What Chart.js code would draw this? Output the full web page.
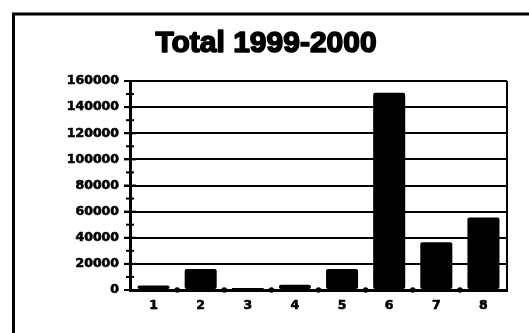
<!DOCTYPE html>
<html>
<head>
<meta charset="utf-8">
<script src="https://cdn.jsdelivr.net/npm/chart.js@4/dist/chart.umd.min.js"></script>
<style>
  html, body { margin: 0; padding: 0; background: #fff; }
  #wrap { width: 529px; height: 333px; }
</style>
</head>
<body>
<div id="wrap"><canvas id="c" width="529" height="333"></canvas></div>
<script>
// Chart content
const titleText = 'Total 1999-2000';
const categories = ['1', '2', '3', '4', '5', '6', '7', '8'];
const totals = [3500, 16000, 1500, 4000, 16000, 151000, 36500, 55500];
const yMin = 0;
const yMax = 160000;
const yStep = 20000;

const INK = '#000';
const tickFont = { family: 'DejaVu Sans', weight: 'bold', size: 12.5 };

// Frame, title, minor ticks, boundary dots and right edge of the plot
const decorations = {
  id: 'decorations',
  beforeDraw(chart) {
    const ctx = chart.ctx;
    ctx.save();
    ctx.fillStyle = '#fff';
    ctx.fillRect(0, 0, chart.width, chart.height);
    ctx.strokeStyle = INK;
    ctx.lineWidth = 3;
    ctx.beginPath();
    ctx.moveTo(13.5, chart.height + 2);
    ctx.lineTo(13.5, 14);
    ctx.lineTo(chart.width + 2, 14);
    ctx.stroke();
    ctx.fillStyle = INK;
    ctx.font = 'bold 30px "Liberation Sans", Arial, sans-serif';
    ctx.textAlign = 'center';
    ctx.textBaseline = 'alphabetic';
    ctx.lineWidth = 1.6;
    ctx.lineJoin = 'round';
    ctx.strokeText(titleText, 266, 51.5);
    ctx.fillText(titleText, 266, 51.5);
    ctx.restore();
  },
  afterDraw(chart) {
    const ctx = chart.ctx;
    const area = chart.chartArea;
    const y = chart.scales.y;
    const x = chart.scales.x;
    ctx.save();
    ctx.strokeStyle = INK;
    // right edge of the plot
    ctx.lineWidth = 2;
    ctx.beginPath();
    ctx.moveTo(area.right, area.top);
    ctx.lineTo(area.right, area.bottom);
    ctx.stroke();
    // cross ticks on the value axis, major and minor
    ctx.lineWidth = 2;
    for (let v = yMin; v <= yMax; v += yStep / 2) {
      const py = y.getPixelForValue(v);
      const half = (v % yStep === 0) ? 6 : 4;
      ctx.beginPath();
      ctx.moveTo(area.left - half, py);
      ctx.lineTo(area.left + half, py);
      ctx.stroke();
    }
    // dots at category boundaries on the base line
    ctx.fillStyle = INK;
    const n = categories.length;
    for (let i = 1; i < n; i++) {
      const px = (x.getPixelForValue(i - 1) + x.getPixelForValue(i)) / 2;
      ctx.beginPath();
      ctx.arc(px, area.bottom, 2.8, 0, Math.PI * 2);
      ctx.fill();
    }
    ctx.restore();
  }
};

new Chart(document.getElementById('c'), {
  type: 'bar',
  data: {
    labels: categories,
    datasets: [{
      data: totals,
      backgroundColor: INK,
      borderWidth: 0,
      borderRadius: 2,
      borderSkipped: false,
      barPercentage: 0.68,
      categoryPercentage: 1
    }]
  },
  options: {
    responsive: false,
    animation: false,
    devicePixelRatio: 1,
    layout: { padding: { left: 0, right: 22, top: 81, bottom: 0 } },
    plugins: {
      legend: { display: false },
      title: { display: false },
      tooltip: { enabled: false }
    },
    scales: {
      x: {
        afterFit(scale) { scale.height = 43; },
        grid: { display: true, drawOnChartArea: false, drawTicks: false },
        border: { display: true, color: INK, width: 3 },
        ticks: { color: INK, font: tickFont, padding: 8, maxRotation: 0, textStrokeColor: INK, textStrokeWidth: 0.6 }
      },
      y: {
        min: yMin,
        max: yMax,
        afterFit(scale) { scale.width = 130; },
        grid: { color: INK, lineWidth: 2, drawTicks: true, tickLength: 6, tickColor: INK, tickWidth: 2 },
        border: { display: true, color: INK, width: 3 },
        ticks: {
          stepSize: yStep,
          color: INK,
          font: tickFont,
          padding: 5,
          textStrokeColor: INK,
          textStrokeWidth: 0.6,
          callback: (v) => String(v)
        }
      }
    }
  },
  plugins: [decorations]
});
</script>
</body>
</html>
